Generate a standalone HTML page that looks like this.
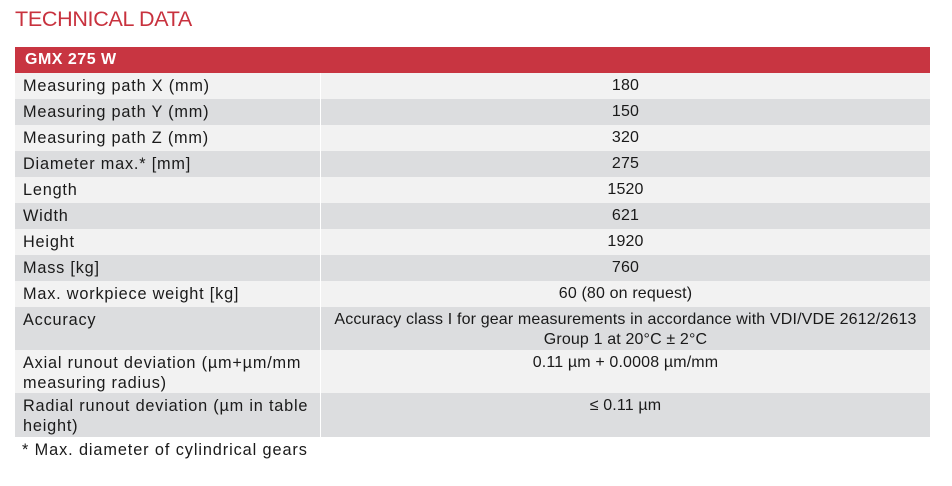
<!DOCTYPE html>
<html><head><meta charset="utf-8"><style>
body{margin:0;width:952px;height:486px;background:#fff;font-family:"Liberation Sans",sans-serif;color:#1a1a1a;position:relative;overflow:hidden}
.t{position:absolute;left:15px;top:7px;font-size:21.5px;color:#c8323e;letter-spacing:-0.3px}
.r{position:absolute;left:15px;width:915px;font-size:16px;line-height:20px}
.h{background:#c83541;color:#fff;font-weight:bold;top:47px;height:26px}
.h span{position:absolute;left:10px;top:3px;letter-spacing:0.5px}
.l{background:#f2f2f2}.d{background:#dcdddf}
.a{position:absolute;left:8px;top:3px;width:300px;letter-spacing:0.8px;font-size:16.3px}
.b{position:absolute;left:305px;right:0;text-align:center;border-left:1px solid #fff;height:100%;top:0;padding-top:3px;box-sizing:border-box;letter-spacing:0.15px}
.f{position:absolute;left:22px;top:441px;font-size:16.3px;letter-spacing:0.9px}
</style></head><body>
<div class="t">TECHNICAL DATA</div>
<div class="r h"><span>GMX 275 W</span></div>
<div class="r l" style="top:73px;height:26px"><div class="a">Measuring path X (mm)</div><div class="b">180</div></div>
<div class="r d" style="top:99px;height:26px"><div class="a">Measuring path Y (mm)</div><div class="b">150</div></div>
<div class="r l" style="top:125px;height:26px"><div class="a">Measuring path Z (mm)</div><div class="b">320</div></div>
<div class="r d" style="top:151px;height:26px"><div class="a">Diameter max.* [mm]</div><div class="b">275</div></div>
<div class="r l" style="top:177px;height:26px"><div class="a">Length</div><div class="b">1520</div></div>
<div class="r d" style="top:203px;height:26px"><div class="a">Width</div><div class="b">621</div></div>
<div class="r l" style="top:229px;height:26px"><div class="a">Height</div><div class="b">1920</div></div>
<div class="r d" style="top:255px;height:26px"><div class="a">Mass [kg]</div><div class="b">760</div></div>
<div class="r l" style="top:281px;height:26px"><div class="a">Max. workpiece weight [kg]</div><div class="b">60 (80 on request)</div></div>
<div class="r d" style="top:307px;height:43px"><div class="a">Accuracy</div><div class="b">Accuracy class I for gear measurements in accordance with VDI/VDE 2612/2613<br>Group 1 at 20°C ± 2°C</div></div>
<div class="r l" style="top:350px;height:43px"><div class="a">Axial runout deviation (µm+µm/mm<br>measuring radius)</div><div class="b">0.11 µm + 0.0008 µm/mm</div></div>
<div class="r d" style="top:393px;height:44px"><div class="a">Radial runout deviation (µm in table<br>height)</div><div class="b">≤ 0.11 µm</div></div>
<div class="f">* Max. diameter of cylindrical gears</div>
</body></html>
